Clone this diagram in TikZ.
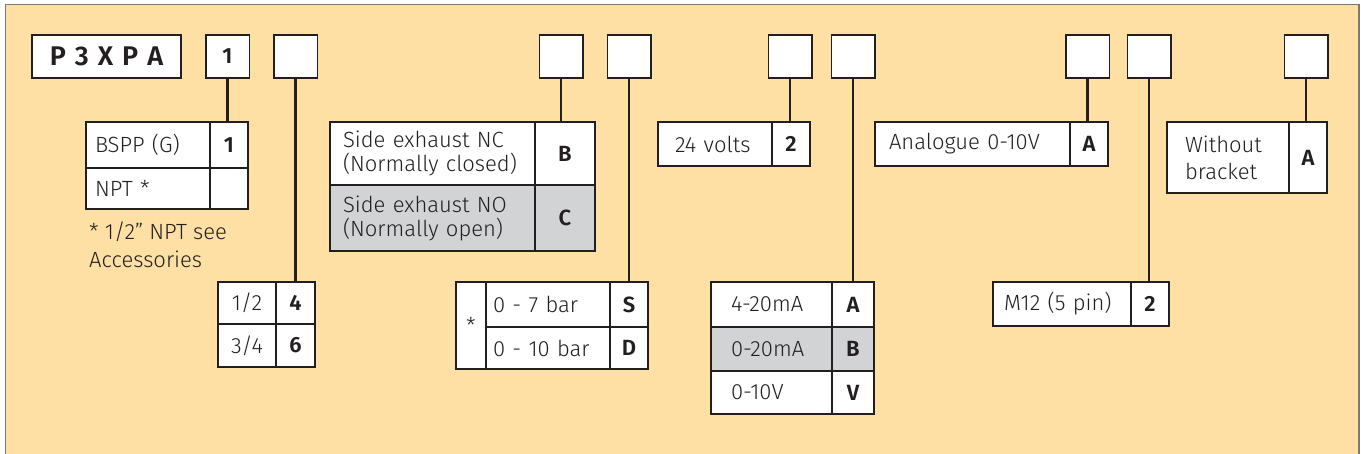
\documentclass[tikz,border=0pt]{standalone}
\usepackage{fontspec}
\setmainfont{Fira Sans}[UprightFont=* Light, BoldFont=* SemiBold]
\usepackage{xcolor}
\usepackage{tikz}
\usetikzlibrary{positioning}
\definecolor{ink}{RGB}{35,31,32}
\definecolor{formbg}{RGB}{254,224,165}
\definecolor{cellgray}{RGB}{209,211,212}
\definecolor{framegray}{RGB}{120,120,120}
\newcommand{\optfont}{\fontsize{22}{24}\selectfont}
\newcommand{\codefont}{\bfseries\fontsize{22}{24}\selectfont}
\newcommand{\titlefont}{\bfseries\fontsize{27}{30}\selectfont}
\tikzset{
  codebox/.style={rectangle, draw=ink, line width=1.5pt, fill=white, minimum width=43.5pt,
                  minimum height=43pt, inner sep=0pt, outer sep=0pt, font=\codefont, text=ink},
  cell/.style={rectangle, draw=ink, line width=1.2pt, fill=white, inner sep=0pt, outer sep=0pt,
               anchor=north west, font=\optfont, text=ink},
  opt/.style 2 args={cell, text width=#1, inner xsep=#2, align=left},
  key/.style={cell, minimum width=#1, font=\codefont},
  shaded/.style={fill=cellgray},
  link/.style={draw=ink, line width=2.2pt},
  note/.style={anchor=north west, inner sep=0pt, align=left, text=ink}
}

\begin{document}
\begin{tikzpicture}[x=1pt, y=-1pt]
  \useasboundingbox (0,0) rectangle (1361,454);
  % form background
  \fill[formbg] (5.5,4.5) rectangle (1359,460);
  \draw[framegray, line width=1.5pt] (5.5,460) -- (5.5,4.5) -- (1359,4.5) -- (1359,460);

  % order code boxes
  \node[codebox, minimum width=149pt, font=\titlefont] (model) at (106.5,56.5)
    {P\kern9pt 3\kern9pt X\kern9pt P\kern9pt A};
  \node[codebox] (c1) at (227.5,56.5) {1};
  \node[codebox] (c2) at (295.5,56.5) {};
  \node[codebox] (c3) at (561,56.5) {};
  \node[codebox] (c4) at (629,56.5) {};
  \node[codebox] (c5) at (790,56.5) {};
  \node[codebox] (c6) at (853,56.5) {};
  \node[codebox] (c7) at (1087.5,56.5) {};
  \node[codebox] (c8) at (1149,56.5) {};
  \node[codebox] (c9) at (1306,56.5) {};

  % port thread
  \node[opt={106pt}{9pt}, minimum height=46pt] (bspp) at (86,122) {BSPP (G)};
  \node[key=38pt, minimum height=46pt, right=0pt of bspp] (bsppk) {1};
  \node[opt={106pt}{9pt}, minimum height=41pt, below=0pt of bspp] (npt) {NPT *};
  \node[key=38pt, minimum height=41pt, right=0pt of npt] (nptk) {};
  \node[note, font=\fontsize{22}{28}\selectfont] (nptnote) at (89,222) {* 1/2" NPT see\\Accessories};

  % port size
  \node[cell, minimum width=58pt, minimum height=42pt] (half) at (218,282) {1/2};
  \node[key=39pt, minimum height=42pt, right=0pt of half] (halfk) {4};
  \node[cell, minimum width=58pt, minimum height=43pt, below=0pt of half] (tqtr) {3/4};
  \node[key=39pt, minimum height=43pt, right=0pt of tqtr] (tqtrk) {6};

  % exhaust
  \node[opt={179pt}{13pt}, minimum height=63pt] (nc) at (330,122) {Side exhaust NC\\(Normally closed)};
  \node[key=60pt, minimum height=63pt, right=0pt of nc] (nck) {B};
  \node[opt={179pt}{13pt}, shaded, minimum height=66pt, below=0pt of nc] (no) {Side exhaust NO\\(Normally open)};
  \node[key=60pt, shaded, minimum height=66pt, right=0pt of no] (nok) {C};

  % pressure range
  \node[cell, minimum width=30pt, minimum height=87pt] (star) at (456,282) {*};
  \node[opt={110pt}{7pt}, minimum height=45pt] (bar7) at (star.north east) {0 - 7 bar};
  \node[key=38pt, minimum height=45pt, right=0pt of bar7] (bar7k) {S};
  \node[opt={110pt}{7pt}, minimum height=42pt, below=0pt of bar7] (bar10) {0 - 10 bar};
  \node[key=38pt, minimum height=42pt, right=0pt of bar10] (bar10k) {D};

  % supply voltage
  \node[opt={80pt}{17pt}, minimum height=44pt] (volt) at (658,122) {24 volts};
  \node[key=38pt, minimum height=44pt, right=0pt of volt] (voltk) {2};

  % feedback signal
  \node[opt={81pt}{20pt}, minimum height=45pt] (ma4) at (711,282) {4-20mA};
  \node[key=42pt, minimum height=45pt, right=0pt of ma4] (ma4k) {A};
  \node[opt={81pt}{20pt}, shaded, minimum height=44pt, below=0pt of ma4] (ma0) {0-20mA};
  \node[key=42pt, shaded, minimum height=44pt, right=0pt of ma0] (ma0k) {B};
  \node[opt={81pt}{20pt}, minimum height=43pt, below=0pt of ma0] (v10) {0-10V};
  \node[key=42pt, minimum height=43pt, right=0pt of v10] (v10k) {V};

  % control signal
  \node[opt={167pt}{14pt}, minimum height=44pt] (ana) at (875,122) {Analogue 0-10V};
  \node[key=38pt, minimum height=44pt, right=0pt of ana] (anak) {A};

  % connector
  \node[opt={116pt}{11pt}, minimum height=44pt] (m12) at (993,282) {M12 (5 pin)};
  \node[key=38pt, minimum height=44pt, right=0pt of m12] (m12k) {2};

  % bracket
  \node[opt={86pt}{18pt}, minimum height=71pt, font=\fontsize{22}{27}\selectfont] (brk) at (1167,122) {Without\\bracket};
  \node[key=38pt, minimum height=71pt, right=0pt of brk] (brkk) {A};

  % links
  \draw[link] (c1.south) -- (c1.south |- bsppk.north);
  \draw[link] (c2.south) -- (c2.south |- halfk.north);
  \draw[link] (c3.south) -- (c3.south |- nck.north);
  \draw[link] (c4.south) -- (c4.south |- bar7k.north);
  \draw[link] (c5.south) -- (c5.south |- voltk.north);
  \draw[link] (c6.south) -- (c6.south |- ma4k.north);
  \draw[link] (c7.south) -- (c7.south |- anak.north);
  \draw[link] (c8.south) -- (c8.south |- m12k.north);
  \draw[link] (c9.south) -- (c9.south |- brkk.north);
\end{tikzpicture}
\end{document}
